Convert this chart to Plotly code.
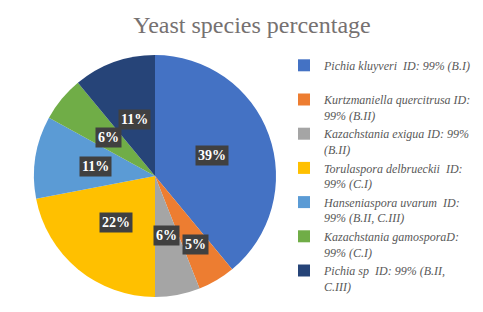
import math
import plotly.graph_objects as go

labels = [
    "Pichia kluyveri  ID: 99% (B.I)<br> ",
    "Kurtzmaniella quercitrusa ID:<br>99% (B.II)",
    "Kazachstania exigua ID: 99%<br>(B.II)",
    "Torulaspora delbrueckii  ID:<br>99% (C.I)",
    "Hanseniaspora uvarum  ID:<br>99% (B.II, C.III)",
    "Kazachstania gamosporaD:<br>99% (C.I)",
    "Pichia sp  ID: 99% (B.II,<br>C.III)",
]
values = [39, 5, 6, 22, 11, 6, 11]
pct_text = ["39%", "5%", "6%", "22%", "11%", "6%", "11%"]
colors = ["#4472C4", "#ED7D31", "#A5A5A5", "#FFC000", "#5B9BD5", "#70AD47", "#264478"]

OFF = 8  # page body margin
W, H = 483 - OFF, 312 - OFF
cx, cy, R = 155 - OFF, 176 - OFF, 121
dom_x = [(cx - R) / W, (cx + R) / W]
dom_y = [(H - cy - R) / H, (H - cy + R) / H]

SERIF = "Liberation Serif, Times New Roman, serif"

fig = go.Figure(go.Pie(
    labels=["<i>" + l.replace("<br>", "</i><br><i>") + "</i>" for l in labels],
    values=values, sort=False, direction="clockwise", rotation=0,
    marker=dict(colors=colors, line=dict(color="white", width=0)),
    textinfo="none", hoverinfo="label+percent",
    domain=dict(x=dom_x, y=dom_y),
))

label_r = [0.5, 0.66, 0.5, 0.5, 0.5, 0.5, 0.5]
total = sum(values)
cum = 0
for v, t, rf in zip(values, pct_text, label_r):
    mid = (cum + v / 2) / total * 2 * math.pi
    cum += v
    px = cx + rf * R * math.sin(mid)
    py = cy - rf * R * math.cos(mid)
    fig.add_annotation(
        x=px / W, y=(H - py) / H, xref="paper", yref="paper",
        xanchor="center", yanchor="middle",
        text=f"<b>{t}</b>", showarrow=False,
        font=dict(family=SERIF, size=14, color="white"),
        bgcolor="#404040", borderpad=2,
    )

fig.update_layout(
    width=W, height=H,
    margin=dict(l=0, r=0, t=0, b=0),
    paper_bgcolor="white", plot_bgcolor="white",
    title=dict(text="Yeast species percentage", x=(252 - OFF) / W, xanchor="center",
               y=1 - (25 - OFF) / H, yanchor="middle", yref="container",
               font=dict(family=SERIF, size=24, color="#767171")),
    legend=dict(x=(284 - OFF) / W, y=1 - (51 - OFF) / H, xanchor="left", yanchor="top",
                font=dict(family=SERIF, size=12, color="#595959"),
                bgcolor="rgba(0,0,0,0)", valign="top", itemwidth=30),
    showlegend=True,
)

fig.write_html("out.html")
